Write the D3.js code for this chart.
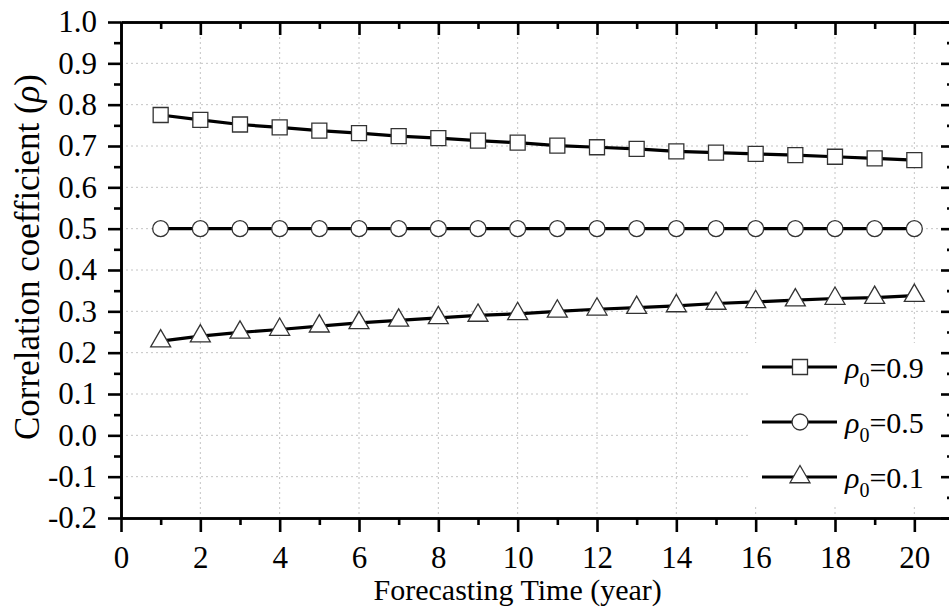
<!DOCTYPE html>
<html>
<head>
<meta charset="utf-8">
<style>
body { margin: 0; background: #fff; }
svg { display: block; }
svg text { font-family: "Liberation Serif", "Times New Roman", serif; }
</style>
</head>
<body>
<div id="container"></div>
<script src="https://d3js.org/d3.v7.min.js"></script>
<script>
// Data
const years = [1, 2, 3, 4, 5, 6, 7, 8, 9, 10, 11, 12, 13, 14, 15, 16, 17, 18, 19, 20];
const rho09 = [0.775, 0.763, 0.752, 0.745, 0.737, 0.731, 0.724, 0.719, 0.713, 0.708,
               0.701, 0.697, 0.693, 0.687, 0.684, 0.681, 0.678, 0.674, 0.670, 0.666];
const rho05 = [0.5, 0.5, 0.5, 0.5, 0.5, 0.5, 0.5, 0.5, 0.5, 0.5,
               0.5, 0.5, 0.5, 0.5, 0.5, 0.5, 0.5, 0.5, 0.5, 0.5];
const rho01 = [0.228, 0.240, 0.249, 0.256, 0.264, 0.272, 0.278, 0.284, 0.290, 0.294,
               0.300, 0.305, 0.309, 0.313, 0.319, 0.323, 0.327, 0.331, 0.333, 0.338];
const seriesNames = ["0.9", "0.5", "0.1"];
const xTicks = [0, 2, 4, 6, 8, 10, 12, 14, 16, 18, 20];
const xMinor = [1, 3, 5, 7, 9, 11, 13, 15, 17, 19];
const yTicks = [-0.2, -0.1, 0.0, 0.1, 0.2, 0.3, 0.4, 0.5, 0.6, 0.7, 0.8, 0.9, 1.0];
const yMinor = [-0.15, -0.05, 0.05, 0.15, 0.25, 0.35, 0.45, 0.55, 0.65, 0.75, 0.85, 0.95];

const serif = "'Liberation Serif', 'Times New Roman', serif";
const width = 949;
const height = 610;
const marginLeft = 121;
const marginTop = 22;
const plotRight = 954;   // right frame sits just past the window edge
const plotBottom = 518;

const x = d3.scaleLinear().domain([0, 21]).range([marginLeft, plotRight]);
const y = d3.scaleLinear().domain([-0.2, 1.0]).range([plotBottom, marginTop]);

const svg = d3.create("svg")
    .attr("width", width)
    .attr("height", height)
    .attr("font-family", serif);

// dotted grid
const grid = svg.append("g")
    .attr("stroke", "#c4c4c4")
    .attr("stroke-width", 1)
    .attr("stroke-dasharray", "2,3");
grid.selectAll("line.gx")
    .data(xTicks.slice(1))
    .join("line")
    .attr("x1", d => x(d)).attr("x2", d => x(d))
    .attr("y1", marginTop).attr("y2", plotBottom);
grid.selectAll("line.gy")
    .data(yTicks.slice(1))
    .join("line")
    .attr("x1", marginLeft).attr("x2", plotRight)
    .attr("y1", d => y(d)).attr("y2", d => y(d));

// legend background hides the grid behind it
svg.append("rect")
    .attr("x", 748).attr("y", 343)
    .attr("width", plotRight - 748).attr("height", 162)
    .attr("fill", "#fff");

// Axes
function styleAxis(g) {
    g.attr("font-family", serif).attr("font-size", 31);
    g.selectAll("path.domain").attr("stroke", "#000").attr("stroke-width", 2.6);
    g.selectAll(".tick line").attr("stroke", "#000").attr("stroke-width", 2.6);
    g.selectAll(".tick text").attr("fill", "#000");
}

svg.append("g")
    .attr("transform", `translate(0,${plotBottom})`)
    .call(d3.axisBottom(x).tickValues(xMinor).tickSize(7).tickSizeOuter(0).tickFormat(""))
    .call(styleAxis);
svg.append("g")
    .attr("transform", `translate(0,${plotBottom})`)
    .call(d3.axisBottom(x).tickValues(xTicks).tickSize(14).tickSizeOuter(0).tickPadding(14).tickFormat(d => String(d)))
    .call(styleAxis);

svg.append("g")
    .attr("transform", `translate(${marginLeft},0)`)
    .call(d3.axisLeft(y).tickValues(yMinor).tickSize(7).tickSizeOuter(0).tickFormat(""))
    .call(styleAxis);
svg.append("g")
    .attr("transform", `translate(${marginLeft},0)`)
    .call(d3.axisLeft(y).tickValues(yTicks).tickSize(13).tickSizeOuter(0).tickPadding(11).tickFormat(d => d.toFixed(1)))
    .call(styleAxis);

// top and right frame, ticks pointing inward
svg.append("g")
    .attr("transform", `translate(0,${marginTop})`)
    .call(d3.axisBottom(x).tickValues(xMinor).tickSize(7).tickSizeOuter(0).tickFormat(""))
    .call(styleAxis);
svg.append("g")
    .attr("transform", `translate(0,${marginTop})`)
    .call(d3.axisBottom(x).tickValues(xTicks.slice(1)).tickSize(13).tickSizeOuter(0).tickFormat(""))
    .call(styleAxis);
svg.append("g")
    .attr("transform", `translate(${plotRight},0)`)
    .call(d3.axisLeft(y).tickValues(yMinor).tickSize(7).tickSizeOuter(0).tickFormat(""))
    .call(styleAxis);
svg.append("g")
    .attr("transform", `translate(${plotRight},0)`)
    .call(d3.axisLeft(y).tickValues(yTicks).tickSize(13).tickSizeOuter(0).tickFormat(""))
    .call(styleAxis);

// Series
const symbols = [d3.symbolSquare, d3.symbolCircle, d3.symbolTriangle];
const symSizes = [225, 200, 173];
const allSeries = [rho09, rho05, rho01];

const line = d3.line()
    .x(d => x(d[0]))
    .y(d => y(d[1]));

allSeries.forEach((vals, i) => {
    const pts = years.map((yr, j) => [yr, vals[j]]);
    svg.append("path")
        .attr("fill", "none")
        .attr("stroke", "#000")
        .attr("stroke-width", 3.2)
        .attr("d", line(pts));
    svg.append("g").selectAll("path")
        .data(pts)
        .join("path")
        .attr("transform", d => `translate(${x(d[0])},${y(d[1])})`)
        .attr("d", d3.symbol(symbols[i], symSizes[i]))
        .attr("fill", "#fff")
        .attr("stroke", "#333")
        .attr("stroke-width", 1.3);
});

// Legend
const legendRows = [367, 422, 477];
seriesNames.forEach((name, i) => {
    const ly = legendRows[i];
    const g = svg.append("g");
    g.append("line")
        .attr("x1", 762).attr("x2", 837)
        .attr("y1", ly).attr("y2", ly)
        .attr("stroke", "#000").attr("stroke-width", 3.2);
    g.append("path")
        .attr("transform", `translate(800,${ly})`)
        .attr("d", d3.symbol(symbols[i], symSizes[i]))
        .attr("fill", "#fff")
        .attr("stroke", "#333")
        .attr("stroke-width", 1.3);
    const t = g.append("text")
        .attr("x", 845).attr("y", ly + 11)
        .attr("font-size", 30)
        .attr("fill", "#000");
    t.append("tspan").attr("font-style", "italic").text("ρ");
    t.append("tspan").attr("dy", 9).attr("font-size", 20).text("0");
    t.append("tspan").attr("dy", -9).text("=" + name);
});

// Axis titles
svg.append("text")
    .attr("x", x(10)).attr("y", 600)
    .attr("text-anchor", "middle")
    .attr("font-size", 30)
    .attr("fill", "#000")
    .text("Forecasting Time (year)");

const yt = svg.append("text")
    .attr("transform", `translate(39,257) rotate(-90)`)
    .attr("text-anchor", "middle")
    .attr("font-size", 35)
    .attr("fill", "#000");
yt.append("tspan").text("Correlation coefficient (");
yt.append("tspan").attr("font-style", "italic").text("ρ");
yt.append("tspan").text(")");

container.append(svg.node());
</script>
</body>
</html>
